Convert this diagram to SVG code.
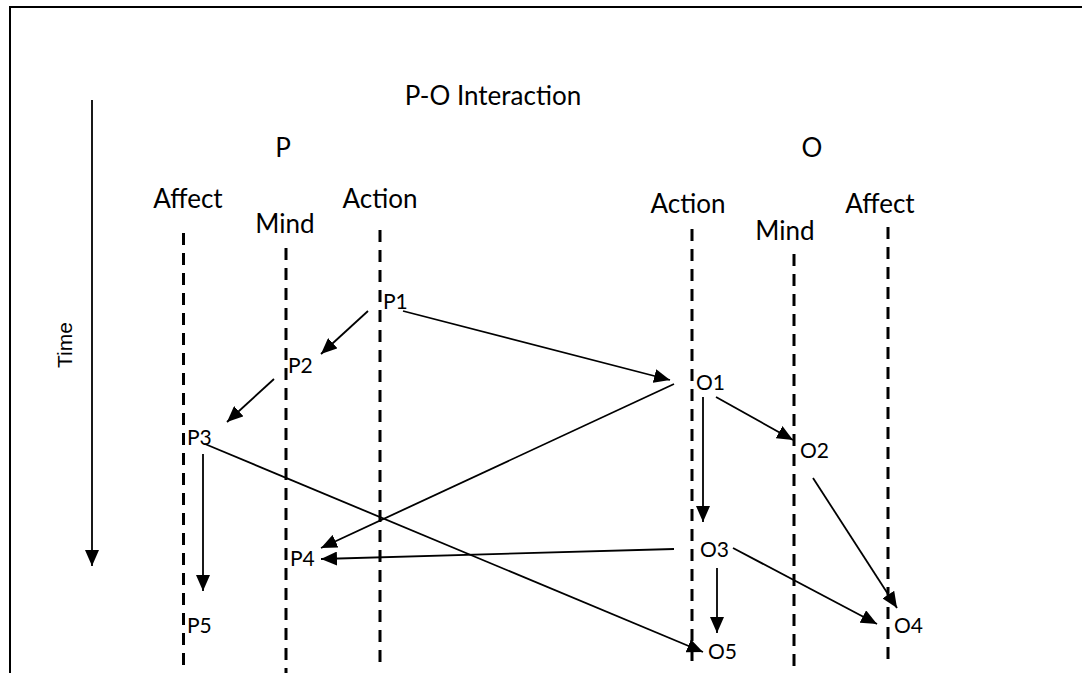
<svg xmlns="http://www.w3.org/2000/svg" width="1082" height="673" viewBox="0 0 1082 673">
  <style>
    .frame { stroke: #000; stroke-width: 2; fill: none; }
    .lane { stroke: #000; stroke-width: 3; stroke-dasharray: 12 8; fill: none; }
    .head { font-family: Lato, "Liberation Sans", sans-serif; font-size: 26px; fill: #000; }
    .node { font-family: Lato, "Liberation Sans", sans-serif; font-size: 21px; fill: #000; }
    .time { font-family: "Liberation Sans", Arial, sans-serif; font-size: 21px; fill: #000; }
    .conn { stroke: #000; stroke-width: 1.8; fill: none; marker-end: url(#arrow); }
  </style>
  <defs>
    <marker id="arrow" markerUnits="userSpaceOnUse" markerWidth="16" markerHeight="14" refX="16" refY="7" orient="auto">
      <path d="M0,0 L16,7 L0,14 Z" fill="#000"/>
    </marker>
  </defs>

  <rect width="1082" height="673" fill="#fff"/>

  <!-- page frame (top and left edges) -->
  <path class="frame" d="M10,673 L10,7 L1082,7"/>

  <!-- headings -->
  <g id="title">
    <text class="head" x="493" y="105" text-anchor="middle">P-O Interaction</text>
    <text class="head" x="283" y="157" text-anchor="middle">P</text>
    <text class="head" x="812" y="157" text-anchor="middle">O</text>
  </g>

  <!-- time axis -->
  <g id="time-axis">
    <line class="conn" x1="92" y1="100" x2="92" y2="566"/>
    <text class="time" transform="translate(72,345) rotate(-90)" text-anchor="middle">Time</text>
  </g>

  <!-- swim lanes -->
  <g id="lane-p-affect">
    <text class="head" x="188" y="208" text-anchor="middle">Affect</text>
    <line class="lane" x1="183.5" y1="233" x2="183.5" y2="665"/>
  </g>
  <g id="lane-p-mind">
    <text class="head" x="285" y="233" text-anchor="middle">Mind</text>
    <line class="lane" x1="286" y1="248" x2="286" y2="673"/>
  </g>
  <g id="lane-p-action">
    <text class="head" x="380" y="208" text-anchor="middle">Action</text>
    <line class="lane" x1="380" y1="230" x2="380" y2="663"/>
  </g>
  <g id="lane-o-action">
    <text class="head" x="688" y="213" text-anchor="middle">Action</text>
    <line class="lane" x1="692" y1="229" x2="692" y2="665"/>
  </g>
  <g id="lane-o-mind">
    <text class="head" x="785" y="240" text-anchor="middle">Mind</text>
    <line class="lane" x1="794" y1="254" x2="794" y2="673"/>
  </g>
  <g id="lane-o-affect">
    <text class="head" x="880" y="213" text-anchor="middle">Affect</text>
    <line class="lane" x1="888" y1="227" x2="888" y2="660"/>
  </g>

  <!-- events -->
  <g id="P1"><text class="node" x="383" y="309">P1</text></g>
  <g id="P2"><text class="node" x="288" y="373">P2</text></g>
  <g id="P3"><text class="node" x="187" y="445">P3</text></g>
  <g id="P4"><text class="node" x="290" y="566">P4</text></g>
  <g id="P5"><text class="node" x="187" y="633">P5</text></g>
  <g id="O1"><text class="node" x="696" y="390">O1</text></g>
  <g id="O2"><text class="node" x="800" y="458">O2</text></g>
  <g id="O3"><text class="node" x="700" y="557">O3</text></g>
  <g id="O4"><text class="node" x="894" y="633">O4</text></g>
  <g id="O5"><text class="node" x="708" y="659">O5</text></g>

  <!-- connectors -->
  <g id="connectors">
    <line class="conn" x1="368" y1="311" x2="321" y2="354"/>
    <line class="conn" x1="274" y1="379" x2="227" y2="422"/>
    <line class="conn" x1="403" y1="311" x2="670" y2="380"/>
    <line class="conn" x1="674" y1="384" x2="321" y2="548"/>
    <line class="conn" x1="703" y1="397" x2="703" y2="522"/>
    <line class="conn" x1="716" y1="397" x2="793" y2="440"/>
    <line class="conn" x1="813" y1="478" x2="897" y2="608"/>
    <line class="conn" x1="674" y1="549" x2="321" y2="559"/>
    <line class="conn" x1="733" y1="548" x2="877" y2="624"/>
    <line class="conn" x1="717" y1="568" x2="717" y2="633"/>
    <line class="conn" x1="205" y1="444" x2="703" y2="652"/>
    <line class="conn" x1="203" y1="454" x2="203" y2="591"/>
  </g>
</svg>
